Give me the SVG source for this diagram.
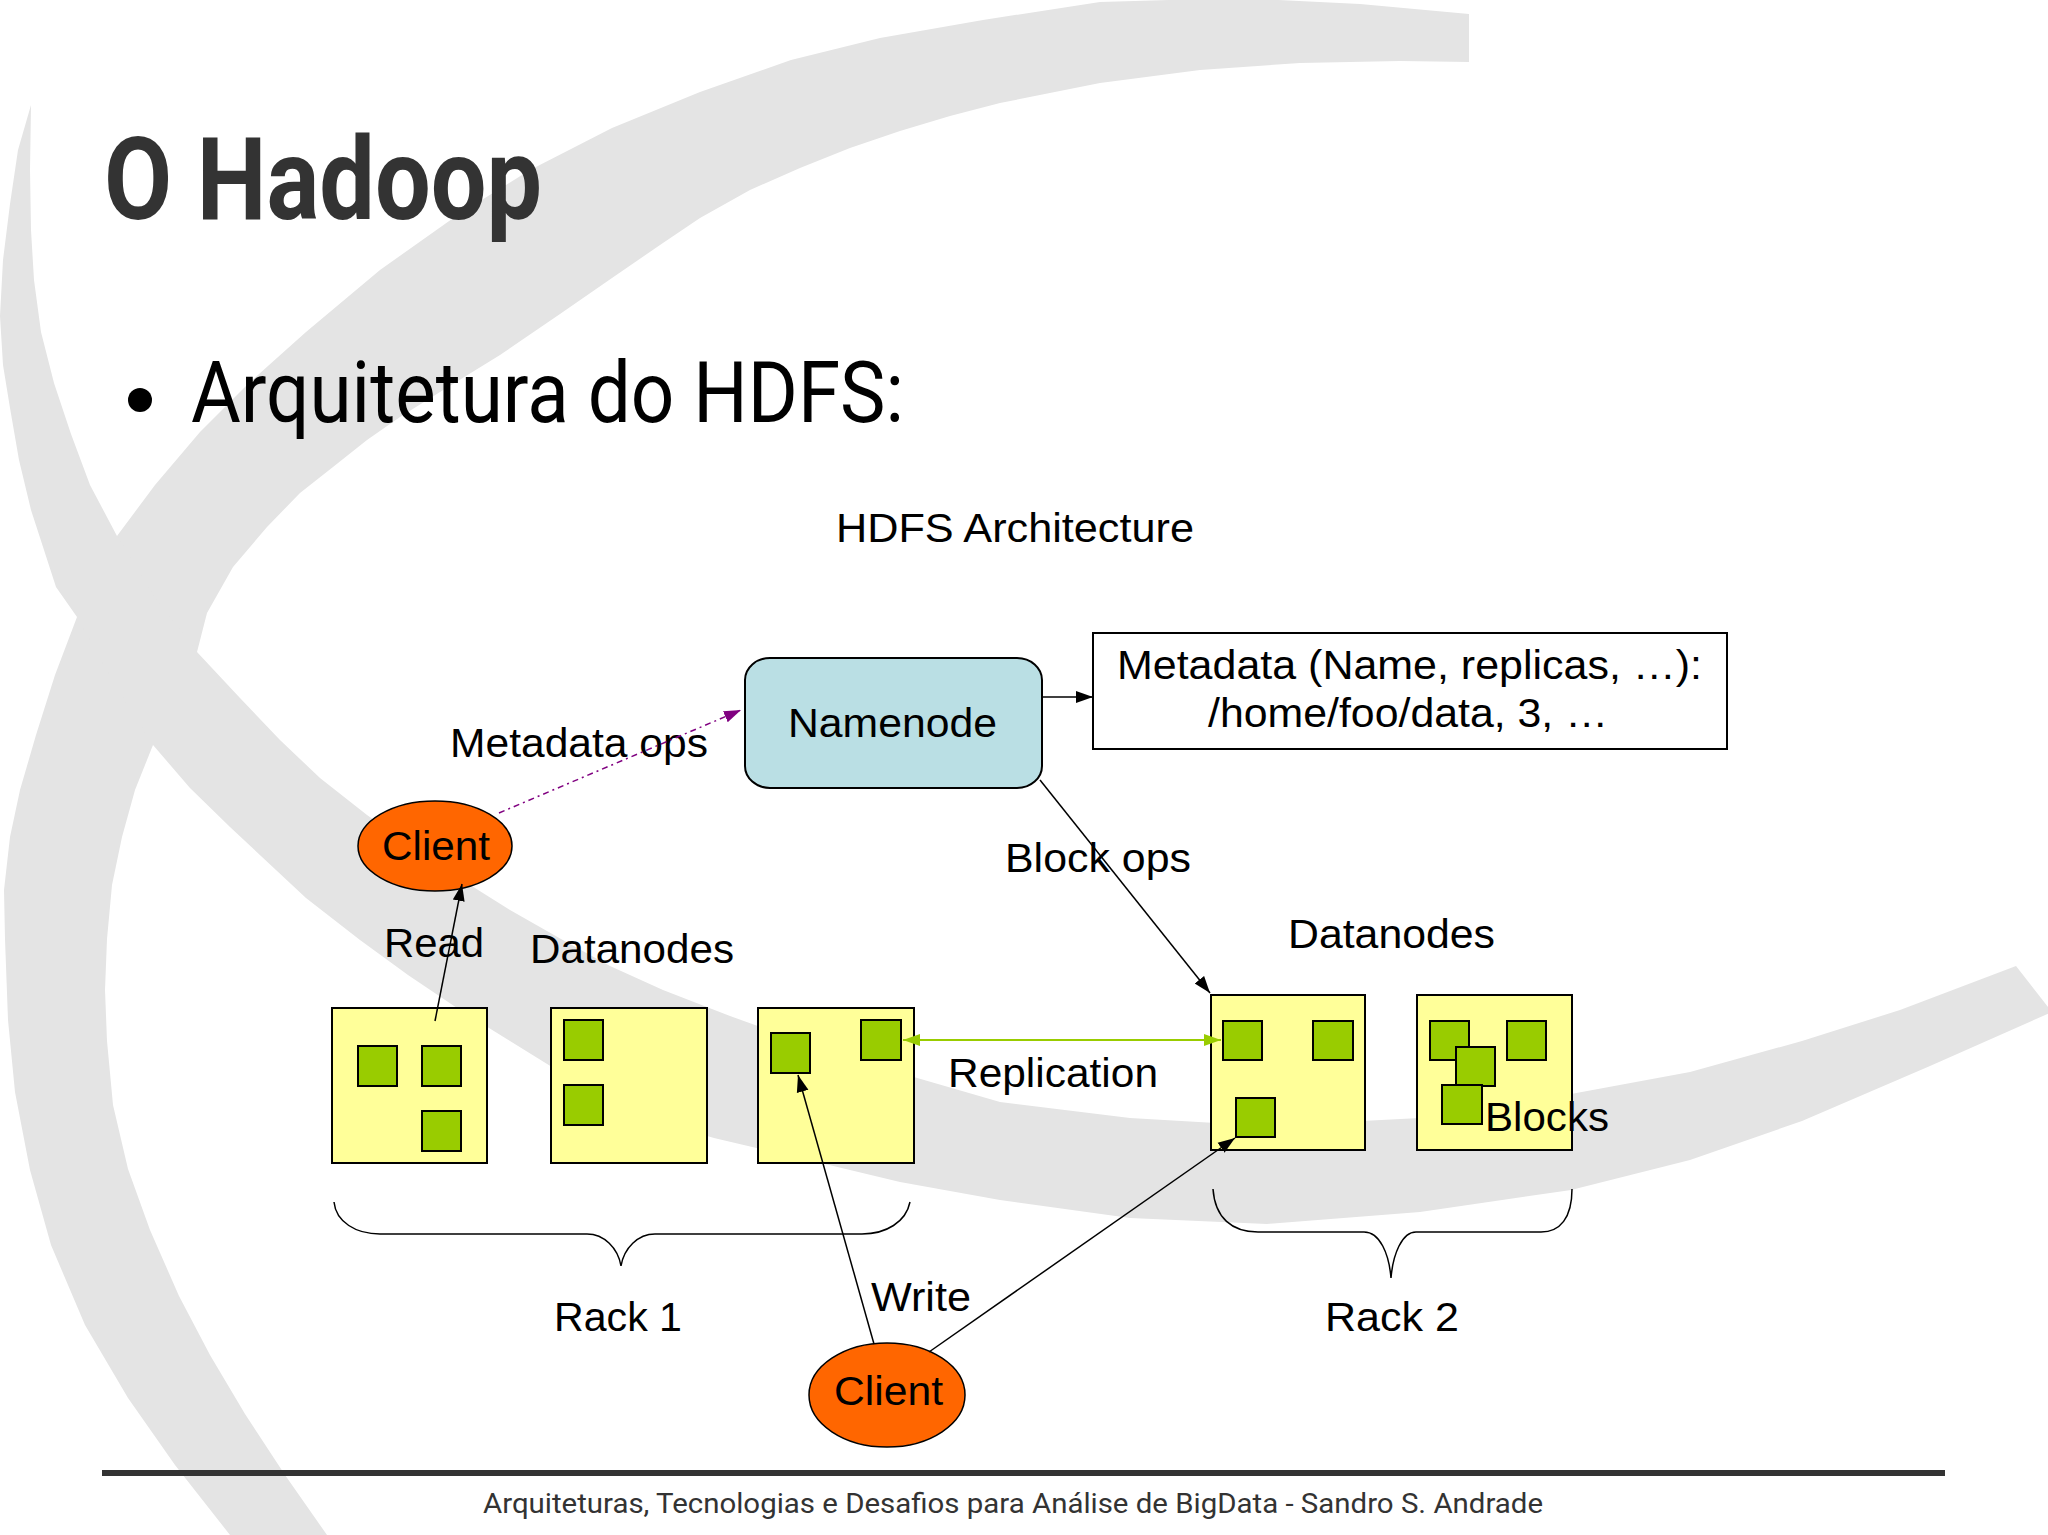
<svg xmlns="http://www.w3.org/2000/svg" width="2048" height="1535" viewBox="0 0 2048 1535">
<style>
.bg{fill:#e4e4e4;stroke:none}
.lbl{font-family:"Liberation Sans",Arial,sans-serif;font-size:41px;fill:#000}
.box{fill:#ffff99;stroke:#000;stroke-width:2}
.blk{fill:#99cc00;stroke:#000;stroke-width:2}
.cli{fill:#ff6600;stroke:#000;stroke-width:1.5}
.ln{fill:none;stroke:#000;stroke-width:1.5}
.brace{fill:none;stroke:#000;stroke-width:1.5}
</style>
<defs>
<marker id="ab" markerUnits="userSpaceOnUse" markerWidth="18" markerHeight="14" refX="17" refY="7" orient="auto"><path d="M0,1 L17,7 L0,13 z" fill="#000"/></marker>
<marker id="ag" markerUnits="userSpaceOnUse" markerWidth="18" markerHeight="14" refX="17" refY="7" orient="auto"><path d="M0,1 L17,7 L0,13 z" fill="#99cc00"/></marker>
<marker id="agr" markerUnits="userSpaceOnUse" markerWidth="18" markerHeight="14" refX="1" refY="7" orient="auto"><path d="M18,1 L1,7 L18,13 z" fill="#99cc00"/></marker>
<marker id="ap" markerUnits="userSpaceOnUse" markerWidth="18" markerHeight="14" refX="17" refY="7" orient="auto"><path d="M0,1 L17,7 L0,13 z" fill="#800080"/></marker>
</defs>
<rect width="2048" height="1535" fill="#fff"/>
<g id="background">
<polygon class="bg" points="1469,14 1360,4 1238,-2 1100,2 983,20 880,38 791,60 700,92 612,128 530,170 459,214 380,270 306,332 250,382 200,432 155,485 117,536 95,575 77,617 55,675 36,735 20,790 10,837 4,890 5,939 8,1020 15,1092 30,1170 51,1245 85,1325 128,1398 175,1465 230,1535 240,1545 345,1545 327,1535 285,1475 245,1414 210,1355 179,1296 150,1230 128,1169 113,1105 107,1041 105,990 107,939 112,885 122,837 135,790 153,745 172,700 197,652 207,613 233,567 267,527 300,493 333,467 367,440 400,417 440,392 500,355 560,314 612,278 660,245 700,218 750,190 800,168 850,148 900,131 950,116 1000,103 1100,83 1200,70 1300,63 1400,61 1469,62"/>
<polygon class="bg" points="31,105 18,150 10,204 3,260 0,316 3,365 10,408 19,460 31,510 44,550 56,587 77,617 115,685 153,745 190,788 230,827 306,898 360,940 408,975 460,1010 510,1041 560,1072 612,1102 660,1122 714,1138 800,1158 900,1182 1000,1200 1130,1218 1267,1224 1420,1212 1571,1190 1690,1160 1802,1121 1930,1066 2052,1012 2016,966 1900,1010 1802,1041 1690,1072 1571,1094 1420,1118 1267,1126 1130,1118 1000,1102 900,1073 800,1041 730,1016 663,990 610,966 561,939 510,910 459,878 410,845 367,815 320,778 280,740 240,698 197,652 155,597 117,536 90,485 71,434 54,383 41,332 34,280 31,230 30,170"/>
</g>
<g id="slide-title">
<text x="104" y="219" font-family="Roboto,'Liberation Sans',sans-serif" font-weight="700" font-size="115" fill="#333" textLength="438" lengthAdjust="spacingAndGlyphs">O Hadoop</text>
<circle cx="140" cy="400" r="12" fill="#000"/>
<text x="191" y="422" font-family="Roboto,'Liberation Sans',sans-serif" font-size="86" fill="#000" textLength="713" lengthAdjust="spacingAndGlyphs">Arquitetura do HDFS:</text>
</g>
<g id="diagram-title">
<text class="lbl" x="836" y="542" textLength="358" lengthAdjust="spacingAndGlyphs">HDFS Architecture</text>
</g>
<g id="namenode">
<rect x="745" y="658" width="297" height="130" rx="25" ry="22" fill="#badfe4" stroke="#000" stroke-width="2"/>
<text class="lbl" x="788" y="737" textLength="209" lengthAdjust="spacingAndGlyphs">Namenode</text>
</g>
<g id="metadata">
<rect x="1093" y="633" width="634" height="116" fill="#fff" stroke="#000" stroke-width="2"/>
<text class="lbl" x="1117" y="679" textLength="585" lengthAdjust="spacingAndGlyphs">Metadata (Name, replicas, …):</text>
<text class="lbl" x="1208" y="727" textLength="400" lengthAdjust="spacingAndGlyphs">/home/foo/data, 3, …</text>
</g>
<g id="client-read">
<ellipse class="cli" cx="435" cy="846" rx="77" ry="45"/>
<text class="lbl" x="382" y="860" textLength="108" lengthAdjust="spacingAndGlyphs">Client</text>
</g>
<g id="client-write">
<ellipse class="cli" cx="887" cy="1395" rx="78" ry="52"/>
<text class="lbl" x="834" y="1405" textLength="109" lengthAdjust="spacingAndGlyphs">Client</text>
</g>
<g id="rack1-datanode1">
<rect class="box" x="332" y="1008" width="155" height="155"/>
<rect class="blk" x="358" y="1046" width="39" height="40"/>
<rect class="blk" x="422" y="1046" width="39" height="40"/>
<rect class="blk" x="422" y="1111" width="39" height="40"/>
</g>
<g id="rack1-datanode2">
<rect class="box" x="551" y="1008" width="156" height="155"/>
<rect class="blk" x="564" y="1020" width="39" height="40"/>
<rect class="blk" x="564" y="1085" width="39" height="40"/>
</g>
<g id="rack1-datanode3">
<rect class="box" x="758" y="1008" width="156" height="155"/>
<rect class="blk" x="771" y="1033" width="39" height="40"/>
<rect class="blk" x="861" y="1020" width="40" height="40"/>
</g>
<g id="rack2-datanode1">
<rect class="box" x="1211" y="995" width="154" height="155"/>
<rect class="blk" x="1223" y="1021" width="39" height="39"/>
<rect class="blk" x="1313" y="1021" width="40" height="39"/>
<rect class="blk" x="1236" y="1098" width="39" height="39"/>
</g>
<g id="rack2-datanode2">
<rect class="box" x="1417" y="995" width="155" height="155"/>
<rect class="blk" x="1430" y="1021" width="39" height="39"/>
<rect class="blk" x="1507" y="1021" width="39" height="39"/>
<rect class="blk" x="1456" y="1047" width="39" height="39"/>
<rect class="blk" x="1442" y="1085" width="40" height="39"/>
</g>
<g id="labels">
<text class="lbl" x="450" y="757" textLength="258" lengthAdjust="spacingAndGlyphs">Metadata ops</text>
<text class="lbl" x="1005" y="872" textLength="186" lengthAdjust="spacingAndGlyphs">Block ops</text>
<text class="lbl" x="384" y="957" textLength="100" lengthAdjust="spacingAndGlyphs">Read</text>
<text class="lbl" x="530" y="963" textLength="204" lengthAdjust="spacingAndGlyphs">Datanodes</text>
<text class="lbl" x="1288" y="948" textLength="207" lengthAdjust="spacingAndGlyphs">Datanodes</text>
<text class="lbl" x="948" y="1087" textLength="210" lengthAdjust="spacingAndGlyphs">Replication</text>
<text class="lbl" x="1485" y="1131" textLength="124" lengthAdjust="spacingAndGlyphs">Blocks</text>
<text class="lbl" x="871" y="1311" textLength="100" lengthAdjust="spacingAndGlyphs">Write</text>
<text class="lbl" x="554" y="1331" textLength="128" lengthAdjust="spacingAndGlyphs">Rack 1</text>
<text class="lbl" x="1325" y="1331" textLength="134" lengthAdjust="spacingAndGlyphs">Rack 2</text>
</g>
<g id="connectors">
<line class="ln" x1="1042" y1="697" x2="1093" y2="697" marker-end="url(#ab)"/>
<line x1="499" y1="813" x2="741" y2="710" stroke="#800080" stroke-width="1.5" stroke-dasharray="6 4 2 4" marker-end="url(#ap)"/>
<line class="ln" x1="435" y1="1021" x2="462" y2="884" marker-end="url(#ab)"/>
<line class="ln" x1="1040" y1="780" x2="1210" y2="993" marker-end="url(#ab)"/>
<line x1="903" y1="1040" x2="1221" y2="1040" stroke="#99cc00" stroke-width="2" marker-start="url(#agr)" marker-end="url(#ag)"/>
<line class="ln" x1="874" y1="1344" x2="798" y2="1075" marker-end="url(#ab)"/>
<line class="ln" x1="929" y1="1352" x2="1235" y2="1138" marker-end="url(#ab)"/>
<path class="brace" d="M334,1202 C336,1222 356,1234 380,1234 L587,1234 C604,1234 618,1248 621,1266 C624,1248 638,1234 655,1234 L862,1234 C886,1234 906,1222 910,1202"/>
<path class="brace" d="M1213,1189 C1215,1218 1232,1232 1258,1232 L1364,1232 C1380,1232 1389,1254 1391,1278 C1393,1254 1402,1232 1416,1232 L1541,1232 C1560,1232 1572,1218 1572,1189"/>
</g>
<g id="footer">
<line x1="102" y1="1473" x2="1945" y2="1473" stroke="#333" stroke-width="6"/>
<text x="483" y="1513" font-family="Roboto,'Liberation Sans',sans-serif" font-size="28" fill="#333" textLength="1060" lengthAdjust="spacingAndGlyphs">Arquiteturas, Tecnologias e Desafios para Análise de BigData - Sandro S. Andrade</text>
</g>
</svg>
